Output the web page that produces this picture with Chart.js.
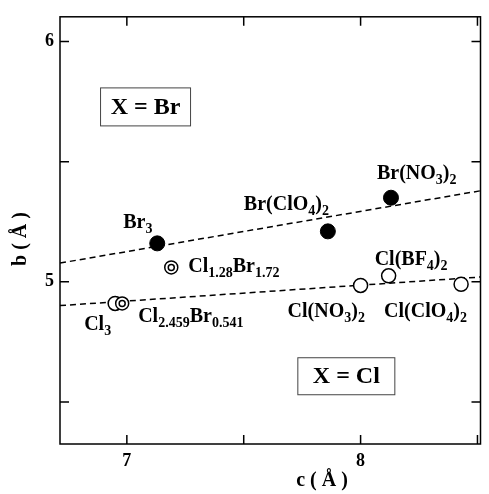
<!DOCTYPE html>
<html><head><meta charset="utf-8">
<script src="https://cdn.jsdelivr.net/npm/chart.js@4/dist/chart.umd.min.js"></script>
<style>html,body{margin:0;padding:0;background:#fff;}</style>
</head><body>
<canvas id="c" width="489" height="494" style="display:block;width:489px;height:494px"></canvas>
<script>
// ---- data ----
const brNames = ['Br_3', 'Br(ClO_4)_2', 'Br(NO_3)_2'];
const brC = [7.13, 7.86, 8.13];
const brB = [5.16, 5.21, 5.35];
const mixNames = ['Cl_1.28Br_1.72', 'Cl_2.459Br_0.541'];
const mixC = [7.19, 6.98];
const mixB = [5.06, 4.91];
const clNames = ['Cl_3', 'Cl(NO_3)_2', 'Cl(BF_4)_2', 'Cl(ClO_4)_2'];
const clC = [6.95, 8.00, 8.12, 8.43];
const clB = [4.91, 4.985, 5.025, 4.99];
const fitC = [6.714, 8.513];
const brFitB = [5.078, 5.379];
const clFitB = [4.901, 5.020];
const xTicks = [7, 7.5, 8, 8.5];
const yTicks = [4.5, 5, 5.5, 6];
const xTickLabels = {7: '7', 8: '8'};
const yTickLabels = {5: '5', 6: '6'};
const boxTexts = ['X = Br', 'X = Cl'];
const boxC = [7.08, 7.939];
const boxB = [5.728, 4.607];
const xTitle = 'c ( Å )';
const yTitle = 'b ( Å )';

// ---- label placement (pixel offsets from the point) ----
const brOff = [[-34, -15], [-84, -21], [-14, -19]];
const mixOff = [[17, 5], [16, 19]];
const clOff = [[-31, 27], [-73, 32], [-14, -11], [-77, 33]];
const boxSize = [[90, 38], [97, 37]];

const SERIF = '"Liberation Serif", "DejaVu Serif", serif';
const pts = (cs, bs) => cs.map((c, i) => ({x: c, y: bs[i]}));

function drawRich(ctx, text, x, y) {
  const parts = text.split(/(_[0-9.]+)/).filter(s => s.length);
  let cx = x;
  ctx.textAlign = 'left';
  ctx.textBaseline = 'alphabetic';
  for (const p of parts) {
    if (p[0] === '_') {
      ctx.font = 'bold 14px ' + SERIF;
      ctx.fillText(p.slice(1), cx, y + 5);
      cx += ctx.measureText(p.slice(1)).width;
    } else {
      ctx.font = 'bold 20px ' + SERIF;
      ctx.fillText(p, cx, y);
      cx += ctx.measureText(p).width;
    }
  }
}

const decor = {
  id: 'decor',
  beforeDatasetsDraw(chart) {
    const {ctx, chartArea: a, scales: {x, y}} = chart;
    ctx.save();
    ctx.strokeStyle = '#000';
    ctx.lineWidth = 1.5;
    ctx.strokeRect(a.left, a.top, a.right - a.left, a.bottom - a.top);
    ctx.beginPath();
    for (const v of xTicks) {
      const px = x.getPixelForValue(v);
      ctx.moveTo(px, a.bottom); ctx.lineTo(px, a.bottom - 9);
      ctx.moveTo(px, a.top); ctx.lineTo(px, a.top + 9);
    }
    for (const v of yTicks) {
      const py = y.getPixelForValue(v);
      ctx.moveTo(a.left, py); ctx.lineTo(a.left + 9, py);
      ctx.moveTo(a.right, py); ctx.lineTo(a.right - 9, py);
    }
    ctx.stroke();
    // boxes
    boxTexts.forEach((t, i) => {
      const cx = x.getPixelForValue(boxC[i]);
      const cy = y.getPixelForValue(boxB[i]);
      const [w, h] = boxSize[i];
      ctx.fillStyle = '#fff';
      ctx.fillRect(cx - w / 2, cy - h / 2, w, h);
      ctx.strokeStyle = '#444';
      ctx.lineWidth = 1;
      ctx.strokeRect(cx - w / 2, cy - h / 2, w, h);
      ctx.fillStyle = '#000';
      ctx.font = 'bold 24px ' + SERIF;
      ctx.textAlign = 'center';
      ctx.textBaseline = 'middle';
      ctx.fillText(t, cx, cy + 1);
    });
    ctx.restore();
  },
  afterDatasetsDraw(chart) {
    const {ctx, scales: {x, y}} = chart;
    ctx.save();
    ctx.fillStyle = '#000';
    const put = (names, cs, bs, offs) => names.forEach((n, i) => {
      drawRich(ctx, n, x.getPixelForValue(cs[i]) + offs[i][0], y.getPixelForValue(bs[i]) + offs[i][1]);
    });
    put(brNames, brC, brB, brOff);
    put(mixNames, mixC, mixB, mixOff);
    put(clNames, clC, clB, clOff);
    // axis titles
    ctx.font = 'bold 20px ' + SERIF;
    ctx.textAlign = 'center';
    ctx.textBaseline = 'middle';
    ctx.fillText(xTitle, 322, 481);
    ctx.translate(21, 239);
    ctx.rotate(-Math.PI / 2);
    ctx.fillText(yTitle, 0, 0);
    ctx.restore();
  }
};

new Chart(document.getElementById('c'), {
  type: 'scatter',
  data: {
    datasets: [
      {data: pts(mixC, mixB), pointRadius: 3, pointBackgroundColor: '#fff', pointBorderColor: '#000', pointBorderWidth: 1.5, showLine: false},
      {data: pts(mixC, mixB), pointRadius: 6.5, pointBackgroundColor: '#fff', pointBorderColor: '#000', pointBorderWidth: 1.5, showLine: false},
      {data: pts(brC, brB), pointRadius: 7.5, pointBackgroundColor: '#000', pointBorderColor: '#000', pointBorderWidth: 1, showLine: false},
      {data: pts(clC, clB), pointRadius: 7, pointBackgroundColor: '#fff', pointBorderColor: '#000', pointBorderWidth: 1.5, showLine: false},
      {data: pts(fitC, brFitB), showLine: true, pointRadius: 0, borderColor: '#000', borderWidth: 1.5, borderDash: [6, 4]},
      {data: pts(fitC, clFitB), showLine: true, pointRadius: 0, borderColor: '#000', borderWidth: 1.5, borderDash: [6, 4]}
    ]
  },
  options: {
    responsive: false,
    animation: false,
    devicePixelRatio: 1,
    layout: {padding: {top: 12, right: 1, left: 0, bottom: 0}},
    plugins: {legend: {display: false}, tooltip: {enabled: false}},
    scales: {
      x: {
        type: 'linear', min: 6.714, max: 8.513,
        grid: {display: false, drawTicks: false},
        border: {display: false},
        afterBuildTicks: s => { s.ticks = xTicks.map(v => ({value: v})); },
        afterFit: s => { s.height = 50; },
        ticks: {padding: 7, color: '#000', font: {family: SERIF, weight: 'bold', size: 18},
          callback: v => xTickLabels[v] || ''}
      },
      y: {
        type: 'linear', min: 4.325, max: 6.103,
        grid: {display: false, drawTicks: false},
        border: {display: false},
        afterBuildTicks: s => { s.ticks = yTicks.map(v => ({value: v})); },
        afterFit: s => { s.width = 60; },
        ticks: {padding: 6, color: '#000', font: {family: SERIF, weight: 'bold', size: 18},
          callback: v => yTickLabels[v] || ''}
      }
    }
  },
  plugins: [decor]
});
</script>
</body></html>
